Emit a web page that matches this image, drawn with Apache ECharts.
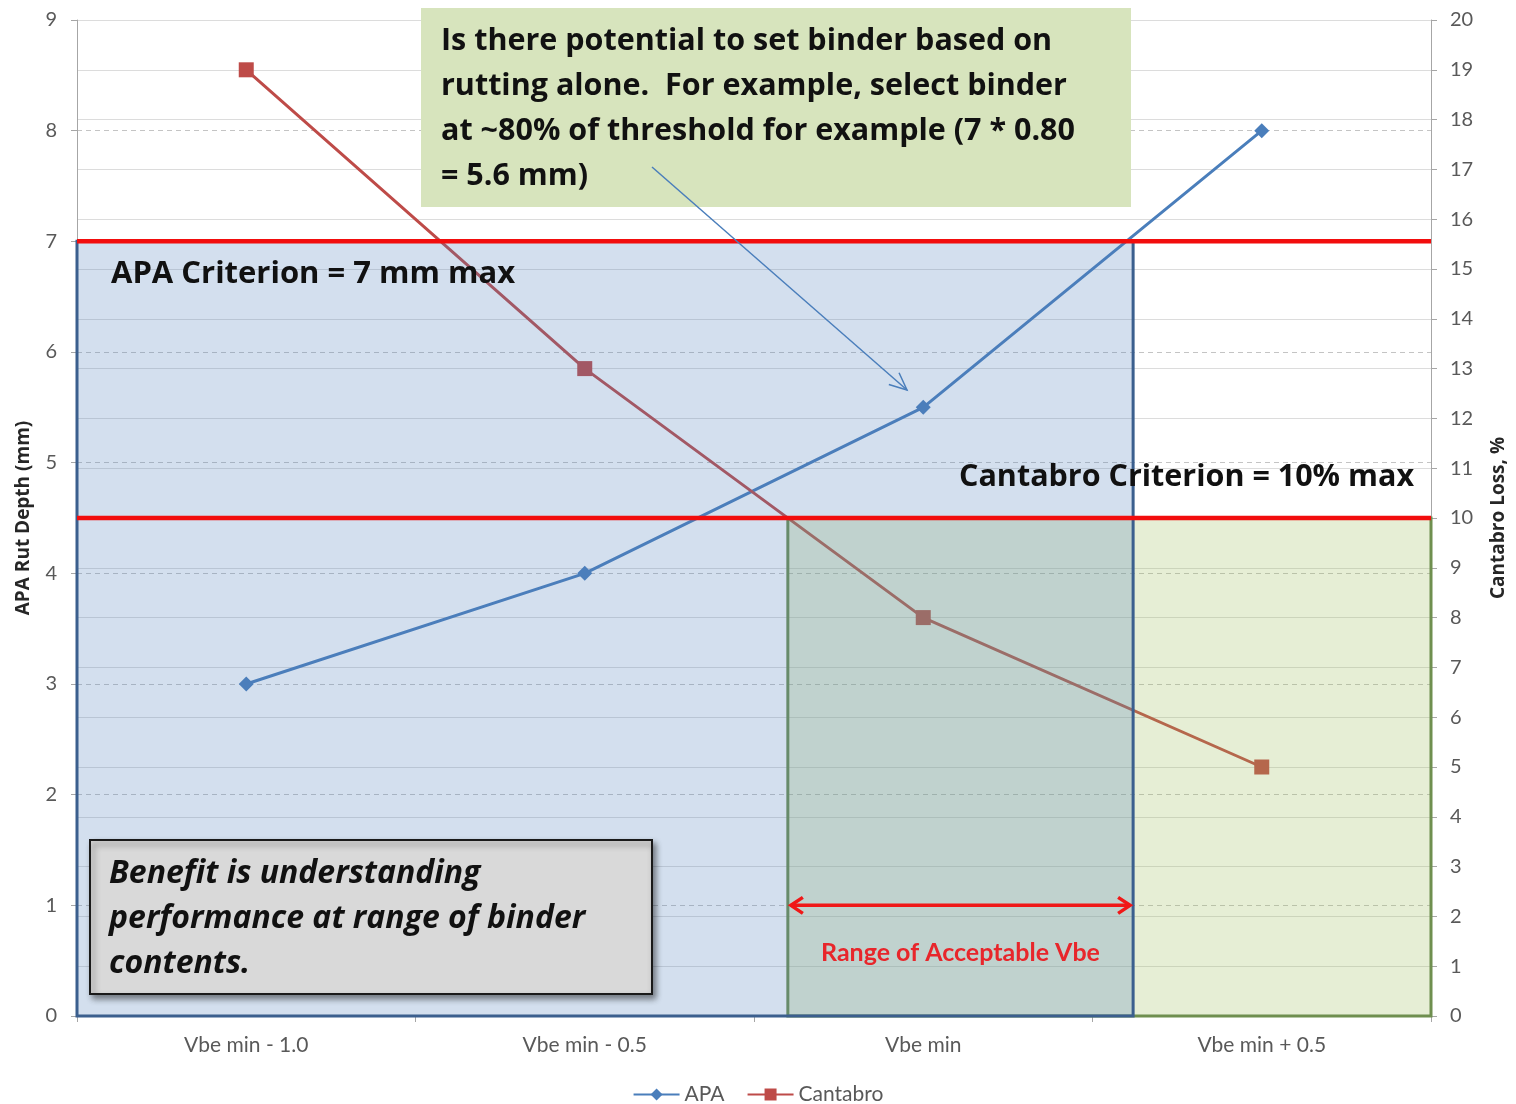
<!DOCTYPE html>
<html>
<head>
<meta charset="utf-8">
<script src="https://cdn.jsdelivr.net/npm/echarts@6/dist/echarts.min.js"></script>
<style>
  html, body { margin: 0; padding: 0; background: #fff; }
  #chart { width: 1516px; height: 1104px; }
</style>
</head>
<body>
<div id="chart"></div>
<script>
// Binder content levels and measured performance
const categories = ['Vbe min - 1.0', 'Vbe min - 0.5', 'Vbe min', 'Vbe min + 0.5'];
const apaRut = [3, 4, 5.5, 8];            // APA rut depth, mm (left axis)
const cantabroLoss = [19, 13, 8, 5];      // Cantabro loss, % (right axis)

// Criteria
const apaCriterion = 7;        // mm max
const cantabroCriterion = 10;  // % max

// Zones in category-index units (-0.5 .. 3.5 spans the plot)
const apaZone = [-0.5, 2.62];          // passes APA criterion
const cantabroZone = [1.6, 3.5];       // passes Cantabro criterion
const acceptableRange = [1.6, 2.62];   // both pass
const rangeArrowLevel = 1;             // left-axis height of the range arrow

const leftTicks = { min: 0, max: 9, interval: 1 };
const rightTicks = { min: 0, max: 20, interval: 1 };

const FONT = 'Lato, "Open Sans", sans-serif';
const NOTE_FONT = '"Open Sans", Lato, sans-serif';
const labelGray = '#595959';

const chart = echarts.init(document.getElementById('chart'));

function zoneRender(fill, stroke) {
  return function (params, api) {
    const tl = api.coord([api.value(0), api.value(2)]);
    const br = api.coord([api.value(1), 0]);
    return {
      type: 'rect',
      shape: { x: tl[0], y: tl[1], width: br[0] - tl[0], height: br[1] - tl[1] },
      style: { fill: fill, stroke: stroke, lineWidth: 3 }
    };
  };
}

function criterionRender(params, api) {
  const a = api.coord([api.value(0), api.value(2)]);
  const b = api.coord([api.value(1), api.value(2)]);
  return {
    type: 'line',
    shape: { x1: a[0], y1: a[1], x2: b[0], y2: b[1] },
    style: { stroke: '#f20d0d', lineWidth: 4.5 }
  };
}

function rangeArrowRender(params, api) {
  const a = api.coord([api.value(0), api.value(2)]);
  const b = api.coord([api.value(1), api.value(2)]);
  const x1 = a[0] + 3, x2 = b[0] - 3, y = a[1];
  const h = 12, w = 8;
  const red = '#f01818';
  return {
    type: 'group',
    children: [
      { type: 'line', shape: { x1: x1, y1: y, x2: x2, y2: y }, style: { stroke: red, lineWidth: 3.5 } },
      { type: 'polyline', shape: { points: [[x1 + h, y - w], [x1, y], [x1 + h, y + w]] },
        style: { stroke: red, lineWidth: 3.5, fill: null } },
      { type: 'polyline', shape: { points: [[x2 - h, y - w], [x2, y], [x2 - h, y + w]] },
        style: { stroke: red, lineWidth: 3.5, fill: null } },
      { type: 'text', x: (x1 + x2) / 2, y: y + 48,
        style: { text: 'Range of Acceptable Vbe', fill: '#e8262b', font: 'bold 25px ' + FONT,
                 align: 'center', verticalAlign: 'middle' } }
    ]
  };
}

// Pointer from the callout to the APA result at Vbe min
const ptrStart = [652, 167], ptrEnd = [907, 390];
const pdx = ptrEnd[0] - ptrStart[0], pdy = ptrEnd[1] - ptrStart[1];
const plen = Math.sqrt(pdx * pdx + pdy * pdy);
const ux = pdx / plen, uy = pdy / plen;
const headLen = 19, headAng = 0.42;
function rot(x, y, a) { return [x * Math.cos(a) - y * Math.sin(a), x * Math.sin(a) + y * Math.cos(a)]; }
const hA = rot(-ux, -uy, headAng), hB = rot(-ux, -uy, -headAng);

const axisTitleStyle = { color: '#262626', fontSize: 19, fontWeight: 'bold', fontFamily: NOTE_FONT };

const option = {
  animation: false,
  textStyle: { fontFamily: FONT },
  grid: { left: 77, right: 84, top: 20, bottom: 88, containLabel: false },
  legend: {
    top: 1079, left: 'center',
    itemWidth: 46, itemHeight: 15, itemGap: 22,
    textStyle: { color: labelGray, fontSize: 21, fontFamily: FONT },
    data: ['APA', 'Cantabro']
  },
  xAxis: [
    {
      type: 'category', data: categories, boundaryGap: true,
      axisLine: { lineStyle: { color: '#a6a6a6', width: 1 } },
      axisTick: { show: true, length: 6, lineStyle: { color: '#a6a6a6' } },
      axisLabel: { color: labelGray, fontSize: 21, margin: 19, fontFamily: FONT },
      splitLine: { show: false }
    },
    { type: 'value', min: -0.5, max: 3.5, show: false }
  ],
  yAxis: [
    {
      type: 'value', position: 'left',
      min: leftTicks.min, max: leftTicks.max, interval: leftTicks.interval,
      name: 'APA Rut Depth (mm)', nameLocation: 'middle', nameGap: 44,
      nameTextStyle: axisTitleStyle,
      axisLine: { show: true, onZero: false, lineStyle: { color: '#a6a6a6' } },
      axisTick: { show: true, length: 6, lineStyle: { color: '#a6a6a6' } },
      axisLabel: { color: labelGray, fontSize: 20, margin: 20, fontFamily: FONT },
      splitLine: { show: true, lineStyle: { color: '#c4c4c4', type: [5, 4], width: 1.2 } }
    },
    {
      type: 'value', position: 'right',
      min: rightTicks.min, max: rightTicks.max, interval: rightTicks.interval,
      name: 'Cantabro Loss, %', nameLocation: 'middle', nameGap: 58, nameRotate: 90,
      nameTextStyle: axisTitleStyle,
      axisLine: { show: true, onZero: false, lineStyle: { color: '#a6a6a6' } },
      axisTick: { show: true, length: 6, lineStyle: { color: '#a6a6a6' } },
      axisLabel: { color: labelGray, fontSize: 20, margin: 19, fontFamily: FONT },
      splitLine: { show: true, lineStyle: { color: '#dcdcdc', width: 1.2 } }
    }
  ],
  series: [
    {
      name: 'APA', type: 'line', data: apaRut, xAxisIndex: 0, yAxisIndex: 0,
      symbol: 'diamond', symbolSize: 15, z: 2,
      lineStyle: { color: '#4a7ebb', width: 3 },
      itemStyle: { color: '#4a7ebb' }
    },
    {
      name: 'Cantabro', type: 'line', data: cantabroLoss, xAxisIndex: 0, yAxisIndex: 1,
      symbol: 'rect', symbolSize: 15, z: 2,
      lineStyle: { color: '#be4b48', width: 3 },
      itemStyle: { color: '#be4b48' }
    },
    {
      type: 'custom', xAxisIndex: 1, yAxisIndex: 1, z: 3, silent: true,
      renderItem: zoneRender('rgba(155,187,89,0.25)', '#6f8f4f'),
      encode: { x: [0, 1], y: 2 },
      data: [[cantabroZone[0], cantabroZone[1], cantabroCriterion]]
    },
    {
      type: 'custom', xAxisIndex: 1, yAxisIndex: 0, z: 4, silent: true,
      renderItem: zoneRender('rgba(79,129,189,0.25)', '#3b5f8e'),
      encode: { x: [0, 1], y: 2 },
      data: [[apaZone[0], apaZone[1], apaCriterion]]
    },
    {
      type: 'custom', xAxisIndex: 1, yAxisIndex: 0, z: 5, silent: true,
      renderItem: criterionRender, encode: { x: [0, 1], y: 2 },
      data: [[-0.5, 3.5, apaCriterion]]
    },
    {
      type: 'custom', xAxisIndex: 1, yAxisIndex: 1, z: 5, silent: true,
      renderItem: criterionRender, encode: { x: [0, 1], y: 2 },
      data: [[-0.5, 3.5, cantabroCriterion]]
    },
    {
      type: 'custom', xAxisIndex: 1, yAxisIndex: 0, z: 6, silent: true,
      renderItem: rangeArrowRender, encode: { x: [0, 1], y: 2 },
      data: [[acceptableRange[0], acceptableRange[1], rangeArrowLevel]]
    }
  ],
  graphic: [
    {
      type: 'rect', z: 100, shape: { x: 421, y: 8, width: 710, height: 199 },
      style: { fill: '#d7e4bd' }
    },
    {
      type: 'text', z: 101, x: 441, y: 19,
      style: {
        text: 'Is there potential to set binder based on\nrutting alone.  For example, select binder\nat ~80% of threshold for example (7 * 0.80\n= 5.6 mm)',
        font: 'bold 30.5px ' + NOTE_FONT, lineHeight: 45, fill: '#111'
      }
    },
    {
      type: 'line', z: 102,
      shape: { x1: ptrStart[0], y1: ptrStart[1], x2: ptrEnd[0], y2: ptrEnd[1] },
      style: { stroke: '#4a7ebb', lineWidth: 1.5 }
    },
    {
      type: 'polyline', z: 102,
      shape: { points: [
        [ptrEnd[0] + hA[0] * headLen, ptrEnd[1] + hA[1] * headLen],
        ptrEnd,
        [ptrEnd[0] + hB[0] * headLen, ptrEnd[1] + hB[1] * headLen]
      ] },
      style: { stroke: '#4a7ebb', lineWidth: 1.5, fill: null }
    },
    {
      type: 'text', z: 101, x: 111, y: 274,
      style: { text: 'APA Criterion = 7 mm max', font: 'bold 31px ' + NOTE_FONT, fill: '#111',
               verticalAlign: 'middle' }
    },
    {
      type: 'text', z: 101, x: 959, y: 477,
      style: { text: 'Cantabro Criterion = 10% max', font: 'bold 30.5px ' + NOTE_FONT, fill: '#111',
               verticalAlign: 'middle' }
    },
    {
      type: 'rect', z: 100, shape: { x: 90, y: 840, width: 562, height: 154 },
      style: { fill: '#d9d9d9', stroke: '#1a1a1a', lineWidth: 2,
               shadowBlur: 6, shadowOffsetX: 3, shadowOffsetY: 4, shadowColor: 'rgba(0,0,0,0.45)' }
    },
    {
      type: 'text', z: 101, x: 109, y: 851,
      style: {
        text: 'Benefit is understanding\nperformance at range of binder\ncontents.',
        font: 'italic bold 32px ' + NOTE_FONT, lineHeight: 45, fill: '#111'
      }
    }
  ]
};

chart.setOption(option);
</script>
</body>
</html>
